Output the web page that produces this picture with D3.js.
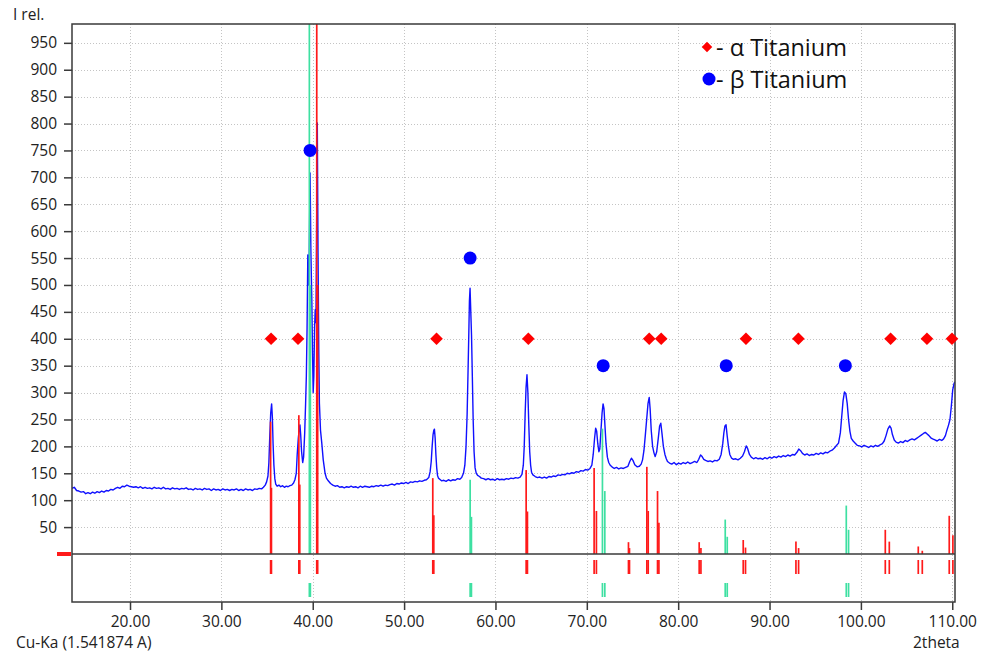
<!DOCTYPE html>
<html>
<head>
<meta charset="utf-8">
<script src="https://cdn.jsdelivr.net/npm/d3@7"></script>
<style>
  html, body { margin: 0; padding: 0; background: #fff; }
  svg { display: block; font-family: "Open Sans", sans-serif; }
</style>
</head>
<body>
<svg id="chart" width="984" height="653"></svg>
<script>
const yTicks = [50, 100, 150, 200, 250, 300, 350, 400, 450, 500, 550, 600, 650, 700, 750, 800, 850, 900, 950];
const xTicks = [20, 30, 40, 50, 60, 70, 80, 90, 100, 110];

// fase alfa (hcp): [2theta, I] — Ka1 e Ka2 listados
const alphaSticks = [
  [35.39, 246], [35.48, 123], [38.48, 258], [38.58, 129], [40.44, 1000], [40.54, 500],
  [53.14, 141], [53.25, 72], [63.36, 156], [63.5, 79], [70.8, 160], [71.05, 80],
  [74.56, 22], [74.67, 11], [76.57, 162], [76.72, 80], [77.74, 117], [77.89, 58],
  [82.3, 22], [82.49, 11], [87.12, 26], [87.37, 12], [92.89, 23], [93.18, 11],
  [102.67, 45], [103.11, 23], [106.28, 14], [106.72, 6], [109.67, 71], [110.07, 35]
];
// fase beta (bcc)
const betaSticks = [
  [39.63, 1000], [39.74, 500], [57.23, 138], [57.37, 69], [71.71, 233], [71.97, 117],
  [85.15, 64], [85.37, 32], [98.4, 90], [98.65, 45]
];

// marcadores de identificação
const alphaMarks = [[35.44, 400], [38.39, 400], [53.55, 400], [63.6, 400], [76.83, 400], [78.14, 400],
  [87.42, 400], [93.16, 400], [103.25, 400], [107.23, 400], [109.97, 400]];
const betaMarks = [[39.71, 750], [57.23, 550], [71.79, 350], [85.26, 350], [98.3, 350]];

// varredura medida [2theta, I]
const scan = [
  [13.65, 122], [13.9, 124], [14.15, 118], [14.4, 117], [14.65, 115], [14.9, 116], [15.15, 112], [15.4, 114],
  [15.65, 112], [15.9, 115], [16.15, 113], [16.4, 116], [16.65, 114], [16.9, 117], [17.15, 115], [17.4, 118],
  [17.65, 117], [17.9, 120], [18.15, 119], [18.4, 122], [18.65, 124], [18.9, 122], [19.15, 126], [19.4, 125],
  [19.65, 128], [19.9, 126], [20.15, 125], [20.4, 124], [20.65, 125], [20.9, 123], [21.15, 125], [21.4, 122],
  [21.65, 124], [21.9, 122], [22.15, 123], [22.4, 121], [22.65, 124], [22.9, 122], [23.15, 123], [23.4, 121],
  [23.65, 124], [23.9, 121], [24.15, 122], [24.4, 120], [24.65, 123], [24.9, 121], [25.15, 122], [25.4, 120],
  [25.65, 122], [25.9, 121], [26.15, 123], [26.4, 120], [26.65, 121], [26.9, 119], [27.15, 122], [27.4, 120],
  [27.65, 121], [27.9, 119], [28.15, 122], [28.4, 120], [28.65, 121], [28.9, 118], [29.15, 121], [29.4, 119],
  [29.65, 120], [29.9, 118], [30.15, 121], [30.4, 119], [30.65, 120], [30.9, 118], [31.15, 120], [31.4, 119],
  [31.65, 121], [31.9, 118], [32.15, 120], [32.4, 118], [32.65, 121], [32.9, 119], [33.15, 120], [33.4, 118],
  [33.65, 121], [33.9, 120], [34.15, 122], [34.4, 121], [34.6, 124], [34.8, 128], [34.95, 134], [35.1, 145],
  [35.2, 170], [35.3, 220], [35.4, 262], [35.5, 279], [35.58, 255], [35.66, 205], [35.75, 165], [35.85, 140],
  [35.95, 130], [36.1, 126], [36.3, 128], [36.5, 125], [36.7, 127], [36.9, 124], [37.1, 126], [37.3, 125],
  [37.5, 127], [37.7, 128], [37.9, 132], [38.05, 138], [38.2, 150], [38.3, 185], [38.42, 215], [38.52, 232],
  [38.6, 240], [38.68, 222], [38.78, 190], [38.9, 170], [39.0, 180], [39.12, 225], [39.22, 280], [39.3, 330],
  [39.38, 420], [39.46, 556], [39.54, 500], [39.62, 560], [39.71, 708], [39.8, 560], [39.9, 470], [39.97, 380],
  [40.05, 300], [40.12, 330], [40.2, 420], [40.27, 454], [40.35, 430], [40.43, 620], [40.5, 801], [40.58, 560],
  [40.66, 380], [40.73, 280], [40.85, 230], [40.99, 206], [41.15, 175], [41.35, 150], [41.5, 141], [41.7, 136],
  [41.95, 131], [42.2, 128], [42.45, 126], [42.7, 127], [42.95, 124], [43.2, 125], [43.45, 123], [43.7, 125],
  [43.95, 124], [44.2, 126], [44.45, 124], [44.7, 125], [44.95, 123], [45.2, 126], [45.45, 124], [45.7, 126],
  [45.95, 125], [46.2, 124], [46.45, 126], [46.7, 125], [46.95, 127], [47.2, 126], [47.45, 128], [47.7, 126],
  [47.95, 128], [48.2, 127], [48.45, 129], [48.7, 130], [48.95, 128], [49.2, 131], [49.45, 130], [49.7, 132],
  [49.95, 131], [50.2, 133], [50.45, 131], [50.7, 134], [50.95, 133], [51.2, 135], [51.45, 134], [51.7, 136],
  [51.95, 135], [52.2, 137], [52.45, 138], [52.7, 142], [52.85, 153], [52.97, 172], [53.07, 200], [53.17, 222],
  [53.25, 230], [53.32, 232], [53.4, 215], [53.48, 185], [53.57, 160], [53.66, 146], [53.76, 141], [53.9, 139],
  [54.1, 136], [54.35, 137], [54.6, 135], [54.85, 138], [55.1, 136], [55.35, 138], [55.6, 137], [55.85, 140],
  [56.1, 139], [56.3, 142], [56.5, 150], [56.65, 165], [56.78, 200], [56.9, 260], [57.0, 340], [57.08, 407],
  [57.15, 470], [57.22, 494], [57.3, 450], [57.38, 407], [57.47, 330], [57.56, 250], [57.66, 190], [57.77, 160],
  [57.9, 150], [58.05, 146], [58.25, 144], [58.45, 141], [58.7, 140], [58.95, 138], [59.2, 140], [59.45, 138],
  [59.7, 139], [59.95, 137], [60.2, 140], [60.45, 138], [60.7, 139], [60.95, 138], [61.2, 140], [61.45, 139],
  [61.7, 141], [61.95, 140], [62.2, 142], [62.45, 141], [62.7, 143], [62.9, 148], [63.05, 165], [63.15, 200],
  [63.25, 260], [63.35, 310], [63.45, 333], [63.55, 300], [63.65, 240], [63.75, 190], [63.85, 165], [63.95, 152],
  [64.1, 147], [64.35, 144], [64.6, 142], [64.85, 143], [65.1, 141], [65.35, 143], [65.6, 141], [65.85, 144],
  [66.1, 143], [66.35, 145], [66.6, 144], [66.85, 147], [67.1, 146], [67.35, 148], [67.6, 147], [67.85, 150],
  [68.1, 149], [68.35, 151], [68.6, 150], [68.85, 153], [69.1, 152], [69.35, 155], [69.6, 154], [69.85, 157],
  [70.1, 156], [70.35, 159], [70.55, 165], [70.7, 185], [70.85, 215], [70.97, 234], [71.08, 228], [71.2, 205],
  [71.32, 190], [71.42, 195], [71.55, 230], [71.67, 262], [71.78, 279], [71.88, 270], [71.98, 240], [72.1, 205],
  [72.25, 180], [72.4, 170], [72.56, 165], [72.75, 162], [73.0, 159], [73.25, 161], [73.5, 158], [73.75, 160],
  [74.0, 159], [74.25, 161], [74.5, 163], [74.7, 172], [74.88, 178], [75.05, 174], [75.25, 166], [75.5, 162],
  [75.75, 163], [75.95, 167], [76.1, 175], [76.25, 192], [76.4, 220], [76.55, 250], [76.7, 280], [76.83, 291],
  [76.93, 270], [77.05, 230], [77.2, 200], [77.35, 188], [77.48, 181], [77.65, 190], [77.82, 215], [77.97, 238],
  [78.1, 243], [78.22, 225], [78.38, 200], [78.55, 185], [78.7, 177], [78.83, 172], [79.05, 169], [79.3, 167],
  [79.55, 170], [79.8, 166], [80.05, 169], [80.3, 167], [80.55, 170], [80.8, 168], [81.05, 171], [81.3, 168],
  [81.55, 170], [81.8, 172], [82.05, 170], [82.25, 176], [82.45, 184], [82.62, 181], [82.8, 176], [83.0, 174],
  [83.25, 172], [83.5, 173], [83.75, 171], [84.0, 174], [84.25, 173], [84.5, 176], [84.7, 185], [84.88, 205],
  [85.0, 225], [85.12, 238], [85.24, 240], [85.36, 220], [85.5, 200], [85.65, 185], [85.85, 178], [86.05, 176],
  [86.3, 177], [86.55, 175], [86.8, 178], [87.05, 182], [87.25, 190], [87.45, 201], [87.6, 196], [87.8, 185],
  [88.0, 180], [88.25, 177], [88.5, 179], [88.75, 177], [89.0, 178], [89.25, 176], [89.5, 179], [89.75, 177],
  [90.0, 180], [90.25, 178], [90.5, 181], [90.75, 179], [91.0, 182], [91.25, 180], [91.5, 183], [91.75, 181],
  [92.0, 184], [92.25, 182], [92.5, 185], [92.75, 184], [93.0, 189], [93.2, 195], [93.4, 192], [93.6, 187],
  [93.85, 184], [94.1, 186], [94.35, 183], [94.6, 185], [94.85, 184], [95.1, 187], [95.35, 185], [95.6, 188],
  [95.85, 186], [96.1, 189], [96.35, 188], [96.6, 191], [96.85, 193], [97.1, 197], [97.35, 202], [97.55, 206],
  [97.75, 225], [97.9, 255], [98.05, 285], [98.2, 301], [98.35, 298], [98.5, 280], [98.65, 250], [98.8, 228],
  [98.95, 215], [99.15, 210], [99.38, 206], [99.6, 202], [99.85, 201], [100.1, 199], [100.35, 202], [100.6, 200],
  [100.85, 198], [101.1, 201], [101.35, 199], [101.6, 202], [101.85, 200], [102.1, 203], [102.35, 205], [102.55, 210],
  [102.75, 220], [102.95, 232], [103.15, 238], [103.3, 234], [103.45, 222], [103.65, 212], [103.85, 208], [104.1, 206],
  [104.35, 209], [104.6, 207], [104.85, 211], [105.1, 209], [105.35, 212], [105.6, 214], [105.85, 212], [106.1, 215],
  [106.35, 218], [106.6, 221], [106.85, 224], [107.05, 226], [107.25, 223], [107.45, 220], [107.65, 216], [107.85, 214],
  [108.1, 212], [108.35, 210], [108.6, 213], [108.85, 211], [109.05, 214], [109.25, 220], [109.45, 232], [109.6, 240],
  [109.75, 250], [109.9, 275], [110.05, 305], [110.2, 317], [110.3, 320]
];

// ---- layout ------------------------------------------------------------------
const L = 72, R = 955, T = 24, Z = 554, B = 602;
const RED = "#ff1a1a", GREEN = "#3ee0a2", BLUE = "#1010ff", FRAME = "#3a3a3a";

const svg = d3.select("#chart");
const x = d3.scaleLinear().domain([13.65, 110.3]).range([L, R]);
const y = d3.scaleLinear().domain([0, 985]).range([Z, T]);

svg.append("defs").append("clipPath").attr("id", "plot")
  .append("rect").attr("x", L).attr("y", T).attr("width", R - L).attr("height", B - T);

// grade pontilhada
const grid = svg.append("g").attr("stroke", "#c4c4c4").attr("stroke-dasharray", "1,2").attr("stroke-width", 1);
grid.selectAll("line.h").data(yTicks).join("line").attr("class", "h")
  .attr("x1", L).attr("x2", R).attr("y1", (d) => Math.round(y(d)) + 0.5).attr("y2", (d) => Math.round(y(d)) + 0.5);
grid.selectAll("line.v").data(xTicks).join("line").attr("class", "v")
  .attr("y1", T).attr("y2", B).attr("x1", (d) => Math.round(x(d)) + 0.5).attr("x2", (d) => Math.round(x(d)) + 0.5);

const plot = svg.append("g").attr("clip-path", "url(#plot)");

// varredura
plot.append("path").datum(scan)
  .attr("fill", "none").attr("stroke", BLUE).attr("stroke-width", 1.4).attr("stroke-linejoin", "round")
  .attr("d", d3.line().x((d) => x(d[0])).y((d) => y(d[1])));

// barras de referência + faixas de posição abaixo do zero
function sticks(data, color, bandTop, bandBot) {
  plot.append("g").selectAll("line").data(data).join("line")
    .attr("x1", (d) => x(d[0])).attr("x2", (d) => x(d[0]))
    .attr("y1", Z).attr("y2", (d) => y(d[1]))
    .attr("stroke", color).attr("stroke-width", 1.7);
  plot.append("g").selectAll("line").data(data).join("line")
    .attr("x1", (d) => x(d[0])).attr("x2", (d) => x(d[0]))
    .attr("y1", bandTop).attr("y2", bandBot)
    .attr("stroke", color).attr("stroke-width", 1.7);
}
sticks(alphaSticks, RED, 560, 574);
sticks(betaSticks, GREEN, 583, 597);

// linha do zero
svg.append("line").attr("x1", L).attr("x2", R).attr("y1", Z).attr("y2", Z)
  .attr("stroke", FRAME).attr("stroke-width", 1.5);
svg.append("line").attr("x1", 57).attr("x2", 71).attr("y1", Z).attr("y2", Z)
  .attr("stroke", RED).attr("stroke-width", 4);

// moldura
svg.append("rect").attr("x", L).attr("y", T).attr("width", R - L).attr("height", B - T)
  .attr("fill", "none").attr("stroke", FRAME).attr("stroke-width", 1.5);

// eixos
const yAxis = svg.append("g").attr("transform", `translate(${L},0)`)
  .call(d3.axisLeft(y).tickValues(yTicks).tickSize(8).tickPadding(7).tickFormat(d3.format("d")));
const xAxis = svg.append("g").attr("transform", `translate(0,${B})`)
  .call(d3.axisBottom(x).tickValues(xTicks).tickSize(8).tickPadding(6).tickFormat(d3.format(".2f")));
[yAxis, xAxis].forEach((g) => {
  g.select(".domain").remove();
  g.selectAll(".tick line").attr("stroke", FRAME).attr("stroke-width", 1.5);
  g.selectAll(".tick text").attr("fill", "#222").style("font-size", "15.5px").style("font-family", "Open Sans, sans-serif");
});

// marcadores de fase
const diamond = d3.symbol().type(d3.symbolSquare).size(80);
svg.append("g").selectAll("path").data(alphaMarks).join("path")
  .attr("d", diamond).attr("fill", "#ff0000")
  .attr("transform", (d) => `translate(${x(d[0])},${y(d[1])}) rotate(45)`);
svg.append("g").selectAll("circle").data(betaMarks).join("circle")
  .attr("cx", (d) => x(d[0])).attr("cy", (d) => y(d[1])).attr("r", 6.5).attr("fill", "#0000ff");

// legenda
const leg = svg.append("g");
leg.append("path").attr("d", d3.symbol().type(d3.symbolSquare).size(56))
  .attr("fill", "#ff0000").attr("transform", "translate(707,47) rotate(45)");
leg.append("circle").attr("cx", 709).attr("cy", 79).attr("r", 6.5).attr("fill", "#0000ff");
leg.append("text").attr("x", 716).attr("y", 56).text("- α Titanium");
leg.append("text").attr("x", 716).attr("y", 88).text("- β Titanium");
leg.selectAll("text").attr("fill", "#111").style("font-size", "23.5px");

// títulos
svg.append("text").attr("x", 13).attr("y", 20).text("I rel.");
svg.append("text").attr("x", 16).attr("y", 648).text("Cu-Ka (1.541874 A)");
svg.append("text").attr("x", 913).attr("y", 648).text("2theta");
svg.selectAll("svg > text").attr("fill", "#222").style("font-size", "15.5px");
</script>
</body>
</html>
